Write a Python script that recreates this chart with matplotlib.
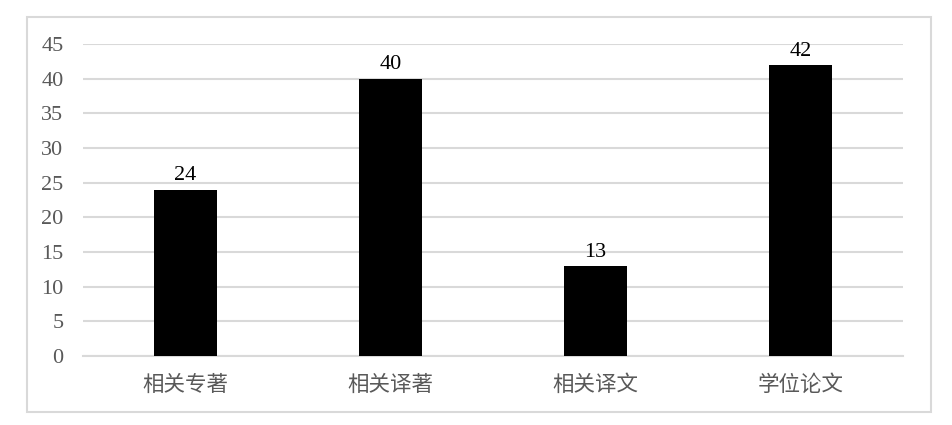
import matplotlib
matplotlib.use('Agg')
import matplotlib.pyplot as plt
from matplotlib.patches import Rectangle

# data
categories = ['相关专著', '相关译著', '相关译文', '学位论文']
counts = [24, 40, 13, 42]
yticks = [0, 5, 10, 15, 20, 25, 30, 35, 40, 45]

W, H = 952, 425
fig = plt.figure(figsize=(W / 100, H / 100), dpi=100)

# outer light gray frame of the chart
fig.patches.append(Rectangle((27 / W, 1 - 412 / H), (931 - 27) / W, (412 - 17) / H,
                             transform=fig.transFigure, fill=False,
                             edgecolor='#d9d9d9', linewidth=1.5))

ax = fig.add_axes([83 / W, 1 - 356 / H, (903 - 83) / W, (356 - 44) / H])

x = range(len(categories))
bars = ax.bar(x, counts, width=0.31, color='black', zorder=3)

ax.set_xlim(-0.5, len(categories) - 0.5)
ax.set_ylim(0, 45)
ax.set_yticks(yticks)
ax.set_yticklabels([str(v) for v in yticks], family='Liberation Serif',
                   fontsize=16, color='#595959')
ax.set_xticks(list(x))
ax.set_xticklabels(categories, family=['Noto Sans CJK SC', 'DejaVu Sans'],
                   fontsize=15.5, color='#595959')
ax.tick_params(length=0, axis='y', pad=14)
ax.tick_params(length=0, axis='x', pad=13)

ax.grid(axis='y', color='#d9d9d9', linewidth=1.5, zorder=0)
for side in ['top', 'right', 'left']:
    ax.spines[side].set_visible(False)
ax.spines['bottom'].set_color('#d9d9d9')
ax.spines['bottom'].set_linewidth(1.5)

# value labels above bars
for b, v in zip(bars, counts):
    ax.annotate(str(v), (b.get_x() + b.get_width() / 2, v), xytext=(0, 3),
                textcoords='offset points', ha='center', va='bottom',
                family='Liberation Serif', fontsize=16, color='black')

fig.savefig('out.png', dpi=100)
